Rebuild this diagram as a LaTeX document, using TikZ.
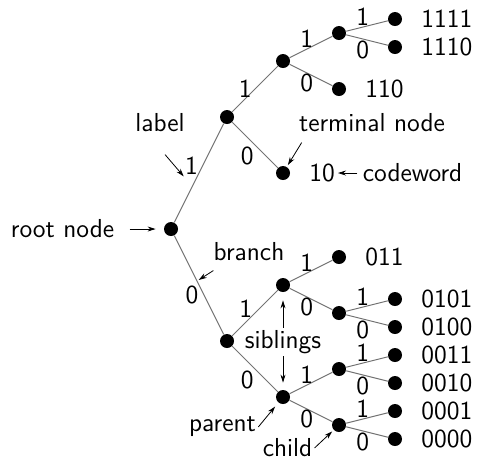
\documentclass[tikz,border=0pt]{standalone}
\usepackage{tikz}
\usetikzlibrary{arrows.meta, positioning}

\tikzset{
  dot/.style={circle, fill=black, inner sep=0pt, minimum size=7pt},
  edgeline/.style={draw=black!55, line width=0.5pt},
  bit/.style={inner sep=0.5pt},
  word/.style={},
  note/.style={inner sep=1pt},
  pointer/.style={-{Stealth[length=4pt,width=2.5pt]}, line width=0.4pt},
}

\begin{document}
\begin{tikzpicture}[x=28pt, y=7pt, font=\sffamily\fontsize{13}{15}\selectfont]
		\useasboundingbox (-3.054,-16.43) rectangle (5.5,16.36);
		
		% Knoten
		\node[dot] (root) at (0,0) {};
		\node[dot] (n1) at (1,8) {};
		\node[dot] (n11) at (2,12) {};
		\node[dot] (n111) at (3,14) {};
		\node[dot] (l1111) at (4,15) {};
		\node[dot] (l1110) at (4,13) {};
		\node[dot] (l110) at (3,10) {};
		\node[dot] (l10) at (2,4) {};
		\node[dot] (n0) at (1,-8) {};
		\node[dot] (n01) at (2,-4) {};
		\node[dot] (l011) at (3,-2) {};
		\node[dot] (n010) at (3,-6) {};
		\node[dot] (l0101) at (4,-5) {};
		\node[dot] (l0100) at (4,-7) {};
		\node[dot] (n00) at (2,-12) {};
		\node[dot] (n001) at (3,-10) {};
		\node[dot] (l0011) at (4,-9) {};
		\node[dot] (l0010) at (4,-11) {};
		\node[dot] (n000) at (3,-14) {};
		\node[dot] (l0001) at (4,-13) {};
		\node[dot] (l0000) at (4,-15) {};
		
		% Codewoerter
		\node[word, right=6pt of l1111] (w1111) {1111};
		\node[word, right=6pt of l1110] (w1110) {1110};
		\node[word, right=6pt of l110] (w110) {110};
		\node[word, right=6pt of l10] (w10) {10};
		\node[word, right=6pt of l011] (w011) {011};
		\node[word, right=6pt of l0101] (w0101) {0101};
		\node[word, right=6pt of l0100] (w0100) {0100};
		\node[word, right=6pt of l0011] (w0011) {0011};
		\node[word, right=6pt of l0010] (w0010) {0010};
		\node[word, right=6pt of l0001] (w0001) {0001};
		\node[word, right=6pt of l0000] (w0000) {0000};
		
		% Zweige
		\draw[edgeline] (root) -- node[bit, pos=0.57, left=1.5pt] (e1) {1} (n1);
		\draw[edgeline] (root) -- coordinate[pos=0.46] (brpt) node[bit, pos=0.6, left=2pt] (e0) {0} (n0);
		\draw[edgeline] (n1) -- node[bit, left=1pt] (e11) {1} (n11);
		\draw[edgeline] (n1) -- node[bit, below left] (e10) {0} (l10);
		\draw[edgeline] (n11) -- node[bit, pos=0.4, above] (e111) {1} (n111);
		\draw[edgeline] (n11) -- node[bit, pos=0.4, below] (e110) {0} (l110);
		\draw[edgeline] (n111) -- node[bit, pos=0.4, above] (e1111) {1} (l1111);
		\draw[edgeline] (n111) -- node[bit, pos=0.4, below] (e1110) {0} (l1110);
		\draw[edgeline] (n0) -- node[bit, pos=0.6, left=3pt] (e01) {1} (n01);
		\draw[edgeline] (n0) -- node[bit, below left] (e00) {0} (n00);
		\draw[edgeline] (n01) -- node[bit, pos=0.4, above] (e011) {1} (l011);
		\draw[edgeline] (n01) -- node[bit, pos=0.4, below] (e010) {0} (n010);
		\draw[edgeline] (n010) -- node[bit, pos=0.4, above] (e0101) {1} (l0101);
		\draw[edgeline] (n010) -- node[bit, pos=0.4, below] (e0100) {0} (l0100);
		\draw[edgeline] (n00) -- node[bit, pos=0.4, above] (e001) {1} (n001);
		\draw[edgeline] (n00) -- node[bit, pos=0.4, below] (e000) {0} (n000);
		\draw[edgeline] (n001) -- node[bit, pos=0.4, above] (e0011) {1} (l0011);
		\draw[edgeline] (n001) -- node[bit, pos=0.4, below] (e0010) {0} (l0010);
		\draw[edgeline] (n000) -- node[bit, pos=0.4, above] (e0001) {1} (l0001);
		\draw[edgeline] (n000) -- node[bit, pos=0.4, below] (e0000) {0} (l0000);
		
		% Beschriftungen
		\node[note] (lab) at (-0.196,7.57) {label};
		\node[note] (term) at (3.589,7.57) {terminal node};
		\node[note, right=9.2pt of w10] (cw) {codeword};
		\node[note, left=23.5pt of root] (rootlbl) {root node};
		\node[note] (br) at (1.393,-1.643) {branch};
		\node[note] (sib) at (2,-8.07) {siblings};
		\node[note] (par) at (0.92,-14.14) {parent};
		\node[note] (ch) at (2.08,-15.64) {child};
		
		% Pfeile
		\draw[pointer] ([xshift=2.5pt,yshift=-10pt]lab.south) -- (e1.south west);
		\draw[pointer, shorten >=1pt] ([xshift=2.5pt,yshift=-4pt]term.south west) -- (l10);
		\draw[pointer, shorten <=1.5pt, shorten >=-2pt] (cw) -- (w10);
		\draw[pointer, shorten <=6.5pt, shorten >=4pt] (rootlbl) -- (root);
		\draw[pointer, shorten >=1pt] ([xshift=1pt,yshift=-3.5pt]br.south west) -- (brpt);
		\draw[pointer, shorten >=4pt] (sib) -- (n01);
		\draw[pointer, shorten >=3.5pt] (sib) -- (n00);
		\draw[pointer, shorten >=2.5pt] (par.east) -- (n00);
		\draw[pointer, shorten >=1pt] (ch.east) -- (n000);
		
	\end{tikzpicture}
\end{document}
